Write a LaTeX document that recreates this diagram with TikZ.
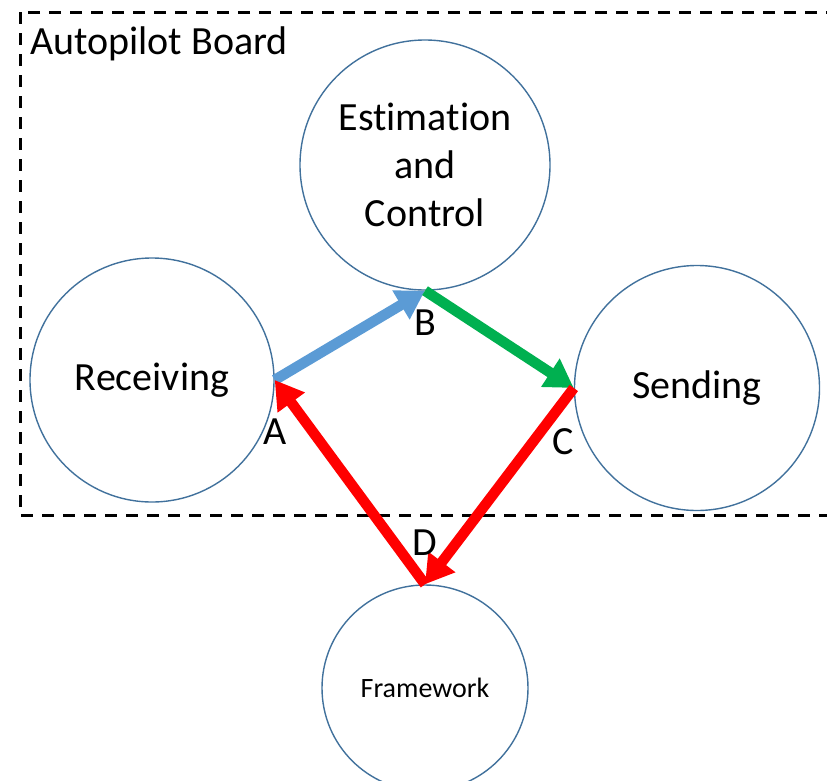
\documentclass[tikz,border=0pt]{standalone}
\usepackage{fontspec}
\setmainfont[Ligatures={NoCommon,NoContextual,NoRequired},RawFeature={-clig}]{Carlito}
\usetikzlibrary{arrows.meta,positioning}
\definecolor{borde}{HTML}{41719C}
\definecolor{azul}{HTML}{5B9BD5}
\definecolor{verde}{HTML}{00B050}
\definecolor{rojo}{HTML}{FF0000}
\newcommand{\grande}{\fontsize{40}{48}\selectfont}

\begin{document}
\begin{tikzpicture}[x=1pt,y=-1pt,
  modulo/.style={circle,draw=borde,line width=1.4pt,inner sep=0pt,align=center,font=\grande},
  flecha/.style={-{Triangle[length=28pt,width=32pt]},line width=10.5pt},
  etiqueta/.style={font=\grande,inner sep=0pt}]
  \useasboundingbox (0,0) rectangle (827,780);
  \clip (0,0) rectangle (827,780);
  % board limits
  \draw[line width=3pt,dash pattern=on 12pt off 9pt] (20,12) rectangle (850,515);
  \node[etiqueta,anchor=west] (board) at (30,44) {Autopilot Board};
  % modules
  \node[modulo,minimum size=250pt] (est) at (425,165) {Estimation\\and\\Control};
  \node[modulo,minimum size=244pt] (recv) at (152,380) {Receiving};
  \node[modulo,minimum size=245pt] (send) at (697,388) {Sending};
  \node[modulo,minimum size=206pt,font=\fontsize{28}{34}\selectfont] (frame) at (425,688) {Framework};
  % data flow
  \draw[flecha,azul] (recv.east) -- (est.south);
  \draw[flecha,verde] (est.south) -- (send.west);
  \draw[flecha,rojo] (send.west) -- (frame.north);
  \draw[flecha,rojo] (frame.north) -- (recv.east);
  \node[etiqueta] (la) at (275,432) {A};
  \node[etiqueta] (lb) at (425,323) {B};
  \node[etiqueta] (lc) at (563,442) {C};
  \node[etiqueta] (ld) at (425,543) {D};
\end{tikzpicture}
\end{document}
